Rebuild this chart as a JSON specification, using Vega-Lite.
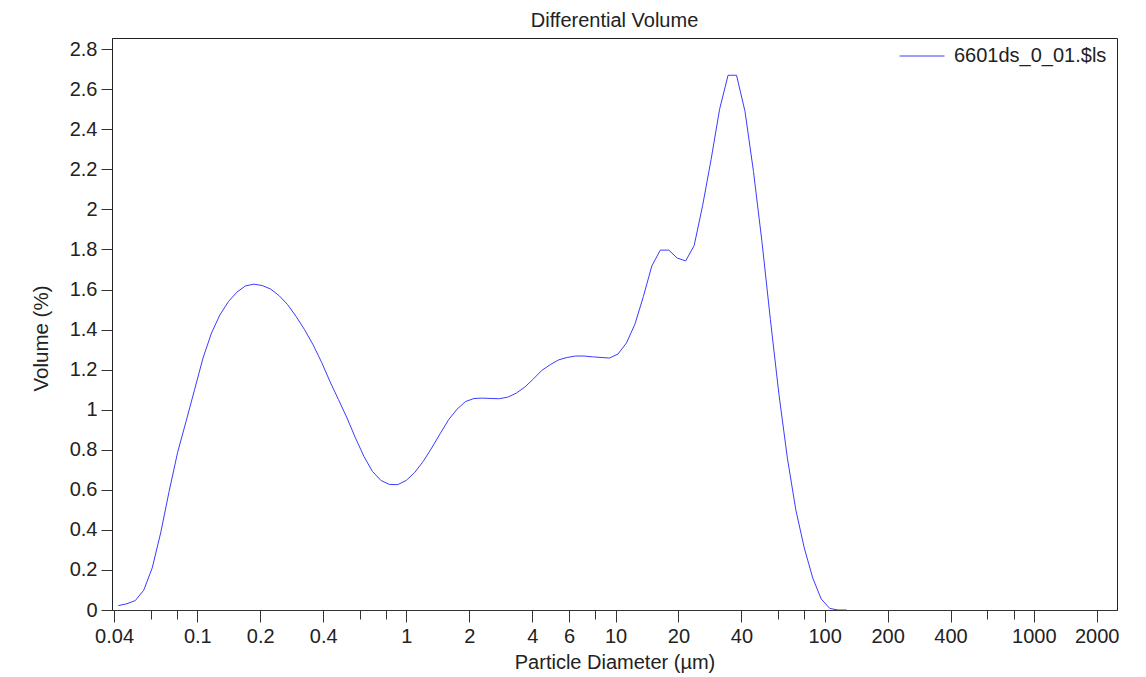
{
  "$schema": "https://vega.github.io/schema/vega-lite/v6.json",
  "width": 1005,
  "height": 572,
  "autosize": {"type": "none"},
  "padding": {"left": 112, "top": 38, "right": 29, "bottom": 67},
  "background": "white",
  "title": {"text": "Differential Volume", "fontSize": 20, "fontWeight": "normal", "font": "Liberation Sans", "color": "#222", "offset": 2, "anchor": "middle"},
  "config": {"view": {"stroke": "#222", "strokeWidth": 1}, "font": "Liberation Sans"},
  "data": {"values": [
    {"d": 0.04193, "v": 0.022, "s": "6601ds_0_01.$ls"},
    {"d": 0.04602, "v": 0.031, "s": "6601ds_0_01.$ls"},
    {"d": 0.05052, "v": 0.047, "s": "6601ds_0_01.$ls"},
    {"d": 0.05546, "v": 0.099, "s": "6601ds_0_01.$ls"},
    {"d": 0.06088, "v": 0.21, "s": "6601ds_0_01.$ls"},
    {"d": 0.06683, "v": 0.385, "s": "6601ds_0_01.$ls"},
    {"d": 0.07336, "v": 0.593, "s": "6601ds_0_01.$ls"},
    {"d": 0.08053, "v": 0.787, "s": "6601ds_0_01.$ls"},
    {"d": 0.0884, "v": 0.942, "s": "6601ds_0_01.$ls"},
    {"d": 0.09703, "v": 1.1, "s": "6601ds_0_01.$ls"},
    {"d": 0.10652, "v": 1.258, "s": "6601ds_0_01.$ls"},
    {"d": 0.11693, "v": 1.383, "s": "6601ds_0_01.$ls"},
    {"d": 0.12836, "v": 1.474, "s": "6601ds_0_01.$ls"},
    {"d": 0.1409, "v": 1.54, "s": "6601ds_0_01.$ls"},
    {"d": 0.15467, "v": 1.587, "s": "6601ds_0_01.$ls"},
    {"d": 0.16979, "v": 1.618, "s": "6601ds_0_01.$ls"},
    {"d": 0.18638, "v": 1.627, "s": "6601ds_0_01.$ls"},
    {"d": 0.2046, "v": 1.62, "s": "6601ds_0_01.$ls"},
    {"d": 0.22459, "v": 1.602, "s": "6601ds_0_01.$ls"},
    {"d": 0.24654, "v": 1.569, "s": "6601ds_0_01.$ls"},
    {"d": 0.27064, "v": 1.524, "s": "6601ds_0_01.$ls"},
    {"d": 0.29709, "v": 1.465, "s": "6601ds_0_01.$ls"},
    {"d": 0.32612, "v": 1.399, "s": "6601ds_0_01.$ls"},
    {"d": 0.35799, "v": 1.324, "s": "6601ds_0_01.$ls"},
    {"d": 0.39298, "v": 1.237, "s": "6601ds_0_01.$ls"},
    {"d": 0.43138, "v": 1.14, "s": "6601ds_0_01.$ls"},
    {"d": 0.47354, "v": 1.05, "s": "6601ds_0_01.$ls"},
    {"d": 0.51982, "v": 0.959, "s": "6601ds_0_01.$ls"},
    {"d": 0.57062, "v": 0.859, "s": "6601ds_0_01.$ls"},
    {"d": 0.62638, "v": 0.767, "s": "6601ds_0_01.$ls"},
    {"d": 0.6876, "v": 0.692, "s": "6601ds_0_01.$ls"},
    {"d": 0.75479, "v": 0.647, "s": "6601ds_0_01.$ls"},
    {"d": 0.82856, "v": 0.627, "s": "6601ds_0_01.$ls"},
    {"d": 0.90953, "v": 0.626, "s": "6601ds_0_01.$ls"},
    {"d": 0.99842, "v": 0.647, "s": "6601ds_0_01.$ls"},
    {"d": 1.096, "v": 0.687, "s": "6601ds_0_01.$ls"},
    {"d": 1.2031, "v": 0.742, "s": "6601ds_0_01.$ls"},
    {"d": 1.3207, "v": 0.809, "s": "6601ds_0_01.$ls"},
    {"d": 1.4497, "v": 0.88, "s": "6601ds_0_01.$ls"},
    {"d": 1.5914, "v": 0.95, "s": "6601ds_0_01.$ls"},
    {"d": 1.747, "v": 1.003, "s": "6601ds_0_01.$ls"},
    {"d": 1.9177, "v": 1.041, "s": "6601ds_0_01.$ls"},
    {"d": 2.1051, "v": 1.056, "s": "6601ds_0_01.$ls"},
    {"d": 2.3108, "v": 1.058, "s": "6601ds_0_01.$ls"},
    {"d": 2.5366, "v": 1.056, "s": "6601ds_0_01.$ls"},
    {"d": 2.7845, "v": 1.055, "s": "6601ds_0_01.$ls"},
    {"d": 3.0567, "v": 1.063, "s": "6601ds_0_01.$ls"},
    {"d": 3.3554, "v": 1.083, "s": "6601ds_0_01.$ls"},
    {"d": 3.6833, "v": 1.113, "s": "6601ds_0_01.$ls"},
    {"d": 4.0432, "v": 1.153, "s": "6601ds_0_01.$ls"},
    {"d": 4.4384, "v": 1.196, "s": "6601ds_0_01.$ls"},
    {"d": 4.8721, "v": 1.225, "s": "6601ds_0_01.$ls"},
    {"d": 5.3482, "v": 1.249, "s": "6601ds_0_01.$ls"},
    {"d": 5.8709, "v": 1.261, "s": "6601ds_0_01.$ls"},
    {"d": 6.4446, "v": 1.268, "s": "6601ds_0_01.$ls"},
    {"d": 7.0744, "v": 1.268, "s": "6601ds_0_01.$ls"},
    {"d": 7.7657, "v": 1.264, "s": "6601ds_0_01.$ls"},
    {"d": 8.5246, "v": 1.261, "s": "6601ds_0_01.$ls"},
    {"d": 9.3577, "v": 1.258, "s": "6601ds_0_01.$ls"},
    {"d": 10.272, "v": 1.278, "s": "6601ds_0_01.$ls"},
    {"d": 11.276, "v": 1.333, "s": "6601ds_0_01.$ls"},
    {"d": 12.378, "v": 1.427, "s": "6601ds_0_01.$ls"},
    {"d": 13.587, "v": 1.565, "s": "6601ds_0_01.$ls"},
    {"d": 14.915, "v": 1.718, "s": "6601ds_0_01.$ls"},
    {"d": 16.373, "v": 1.797, "s": "6601ds_0_01.$ls"},
    {"d": 17.973, "v": 1.797, "s": "6601ds_0_01.$ls"},
    {"d": 19.729, "v": 1.757, "s": "6601ds_0_01.$ls"},
    {"d": 21.657, "v": 1.743, "s": "6601ds_0_01.$ls"},
    {"d": 23.774, "v": 1.82, "s": "6601ds_0_01.$ls"},
    {"d": 26.097, "v": 2.02, "s": "6601ds_0_01.$ls"},
    {"d": 28.647, "v": 2.25, "s": "6601ds_0_01.$ls"},
    {"d": 31.447, "v": 2.5, "s": "6601ds_0_01.$ls"},
    {"d": 34.52, "v": 2.67, "s": "6601ds_0_01.$ls"},
    {"d": 37.893, "v": 2.67, "s": "6601ds_0_01.$ls"},
    {"d": 41.596, "v": 2.49, "s": "6601ds_0_01.$ls"},
    {"d": 45.661, "v": 2.19, "s": "6601ds_0_01.$ls"},
    {"d": 50.123, "v": 1.84, "s": "6601ds_0_01.$ls"},
    {"d": 55.021, "v": 1.45, "s": "6601ds_0_01.$ls"},
    {"d": 60.398, "v": 1.08, "s": "6601ds_0_01.$ls"},
    {"d": 66.3, "v": 0.76, "s": "6601ds_0_01.$ls"},
    {"d": 72.779, "v": 0.5, "s": "6601ds_0_01.$ls"},
    {"d": 79.892, "v": 0.31, "s": "6601ds_0_01.$ls"},
    {"d": 87.699, "v": 0.16, "s": "6601ds_0_01.$ls"},
    {"d": 96.269, "v": 0.055, "s": "6601ds_0_01.$ls"},
    {"d": 105.68, "v": 0.008, "s": "6601ds_0_01.$ls"},
    {"d": 116.01, "v": 0.0, "s": "6601ds_0_01.$ls"},
    {"d": 127.34, "v": 0.0, "s": "6601ds_0_01.$ls"}
  ]},
  "mark": {"type": "line", "strokeWidth": 1, "interpolate": "linear", "clip": true},
  "encoding": {
    "x": {
      "field": "d", "type": "quantitative",
      "scale": {"type": "log", "domain": [0.0391, 2500], "nice": false},
      "axis": {
        "title": "Particle Diameter (µm)",
        "values": [0.04, 0.06, 0.08, 0.1, 0.2, 0.4, 0.6, 0.8, 1, 2, 4, 6, 8, 10, 20, 40, 60, 80, 100, 200, 400, 600, 800, 1000, 2000],
        "labelExpr": "indexof([0.06,0.08,0.6,0.8,8,60,80,600,800], datum.value) >= 0 ? '' : format(datum.value, '~g')",
        "tickSize": {"condition": {"test": "indexof([0.06,0.08,0.6,0.8,8,60,80,600,800], datum.value) >= 0", "value": 9}, "value": 12},
        "grid": false,
        "domainColor": "#333",
        "tickColor": "#333",
        "labelFontSize": 20,
        "labelColor": "#222",
        "labelPadding": 4,
        "labelFlush": false,
        "labelOverlap": false,
        "titleFontSize": 20,
        "titleFontWeight": "normal",
        "titleColor": "#222",
        "titlePadding": 6
      }
    },
    "y": {
      "field": "v", "type": "quantitative",
      "scale": {"domain": [0, 2.856], "nice": false, "zero": false},
      "axis": {
        "title": "Volume (%)",
        "values": [0, 0.2, 0.4, 0.6, 0.8, 1, 1.2, 1.4, 1.6, 1.8, 2, 2.2, 2.4, 2.6, 2.8],
        "format": "~g",
        "tickSize": 11,
        "grid": false,
        "domainColor": "#222",
        "tickColor": "#333",
        "labelFontSize": 20,
        "labelColor": "#222",
        "labelPadding": 4,
        "labelFlush": false,
        "labelOverlap": false,
        "titleFontSize": 20.5,
        "titleFontWeight": "normal",
        "titleColor": "#222",
        "titleX": -61,
        "titleY": 300
      }
    },
    "color": {
      "field": "s", "type": "nominal",
      "scale": {"range": ["#3c3cff"]},
      "legend": {
        "title": null,
        "orient": "none",
        "legendX": 787,
        "legendY": -5,
        "padding": 0,
        "symbolType": "stroke",
        "symbolSize": 2025,
        "symbolStrokeWidth": 1,
        "labelFontSize": 20,
        "labelColor": "#222",
        "labelOffset": 9,
        "labelLimit": 400
      }
    }
  }
}
